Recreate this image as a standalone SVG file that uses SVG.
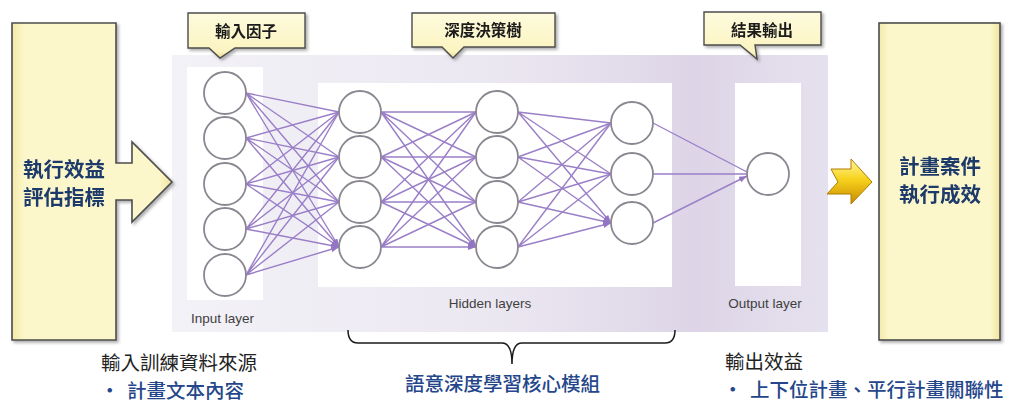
<svg xmlns="http://www.w3.org/2000/svg" width="1028" height="403" viewBox="0 0 1028 403">
  <defs>
    <linearGradient id="panelGrad" x1="0" y1="0" x2="1" y2="0">
      <stop offset="0" stop-color="#f3f2f7"/>
      <stop offset="0.5" stop-color="#ebe7f1"/>
      <stop offset="0.8" stop-color="#ddd5e7"/>
      <stop offset="1" stop-color="#e6e1ee"/>
    </linearGradient>
    <linearGradient id="boxGrad" x1="0" y1="0" x2="1" y2="0">
      <stop offset="0" stop-color="#f3e9a8"/>
      <stop offset="0.08" stop-color="#fcf7cb"/>
      <stop offset="0.92" stop-color="#fcf7cb"/>
      <stop offset="1" stop-color="#efe39c"/>
    </linearGradient>
    <linearGradient id="calloutGrad" x1="0" y1="0" x2="0" y2="1">
      <stop offset="0" stop-color="#fefbde"/>
      <stop offset="0.85" stop-color="#fbf4c0"/>
      <stop offset="1" stop-color="#eadd92"/>
    </linearGradient>
    <linearGradient id="goldGrad" x1="0" y1="0" x2="0" y2="1">
      <stop offset="0" stop-color="#fff7a0"/>
      <stop offset="0.45" stop-color="#f7d21c"/>
      <stop offset="1" stop-color="#c98a00"/>
    </linearGradient>
    <filter id="shadow" x="-10%" y="-10%" width="125%" height="125%">
      <feDropShadow dx="2" dy="2" stdDeviation="1.5" flood-color="#6b6b6b" flood-opacity="0.55"/>
    </filter>
    <marker id="arrowHead" viewBox="0 0 8 6" refX="8" refY="3" markerWidth="8" markerHeight="6" markerUnits="userSpaceOnUse" orient="auto">
      <path d="M0,0 L8,3 L0,6 Z" fill="#9475c4"/>
    </marker>
    <style>
      .box { fill: url(#boxGrad); stroke: #4d4d4d; stroke-width: 1.6; }
      .callout { fill: url(#calloutGrad); stroke: #4d4d4d; stroke-width: 1.4; }
      .boxText { font-family: "Noto Sans CJK TC", "Noto Sans CJK SC", sans-serif; font-size: 20.5px; font-weight: 700; fill: #1f3a6b; text-anchor: middle; }
      .calloutText { font-family: "Noto Sans CJK TC", "Noto Sans CJK SC", sans-serif; font-size: 15.5px; font-weight: 700; fill: #1a1a1a; text-anchor: middle; }
      .layerText { font-family: "Liberation Sans", Arial, sans-serif; font-size: 13.5px; fill: #3f3f3f; }
      .neuron { fill: #ffffff; stroke: #8b8791; stroke-width: 1.8; }
      .conn { stroke: #9a7fc8; stroke-width: 1.4; fill: none; marker-end: url(#arrowHead); }
      .caption { font-family: "Noto Sans CJK TC", "Noto Sans CJK SC", sans-serif; font-size: 19.5px; fill: #222222; }
      .bullet { font-family: "Noto Sans CJK TC", "Noto Sans CJK SC", sans-serif; font-size: 19.5px; fill: #24468a; font-weight: 500; }
      .panel { fill: #ffffff; }
    </style>
  </defs>

  <!-- network backdrop -->
  <g id="network-panel">
    <rect x="172" y="55" width="656" height="277" fill="url(#panelGrad)"/>
    <rect class="panel" x="187" y="67" width="76" height="233"/>
    <rect class="panel" x="318" y="83" width="354" height="204"/>
    <rect class="panel" x="735" y="83" width="66" height="203"/>
    <text class="layerText" x="191" y="323">Input layer</text>
    <text class="layerText" x="490" y="308" text-anchor="middle" font-size="15">Hidden layers</text>
    <text class="layerText" x="765" y="308" text-anchor="middle">Output layer</text>
  </g>

  <!-- left input box with block arrow -->
  <g id="eval-indicators" filter="url(#shadow)">
    <path class="box" d="M12,23 H116 V163 H132 V142 L172,182 L132,222 V200 H116 V340 H12 Z"/>
    <text class="boxText" x="64" y="177">執行效益</text>
    <text class="boxText" x="64" y="205">評估指標</text>
  </g>

  <!-- right outcome box -->
  <g id="case-outcome" filter="url(#shadow)">
    <rect class="box" x="879" y="23" width="121" height="317"/>
    <text class="boxText" x="940" y="174">計畫案件</text>
    <text class="boxText" x="940" y="202">執行成效</text>
  </g>

  <!-- gold arrow into outcome box -->
  <g id="outcome-arrow">
    <path d="M831,169 L851,169 L851,159 L872,182 L851,204 L851,194 L827,194 L838,182 Z" fill="url(#goldGrad)" stroke="#b07d00" stroke-width="1"/>
  </g>

  <!-- callouts -->
  <g id="callout-input" filter="url(#shadow)">
    <path class="callout" d="M188,13 H305 V48 H235 L220,58 L209,48 H188 Z"/>
    <text class="calloutText" x="246" y="37">輸入因子</text>
  </g>
  <g id="callout-hidden" filter="url(#shadow)">
    <path class="callout" d="M412,13 H555 V47 H464 L453,58 L442,47 H412 Z"/>
    <text class="calloutText" x="483" y="36">深度決策樹</text>
  </g>
  <g id="callout-output" filter="url(#shadow)">
    <path class="callout" d="M704,12 H821 V45 H755 L757,59 L740,45 H704 Z"/>
    <text class="calloutText" x="762" y="36">結果輸出</text>
  </g>

  <!-- connectors between layers -->
  <g id="connectors">
    <!-- input -> hidden 1 -->
    <path class="conn" d="M246,93 L339,112 M246,93 L339,157 M246,93 L339,202 M246,93 L339,247"/>
    <path class="conn" d="M246,138 L339,112 M246,138 L339,157 M246,138 L339,202 M246,138 L339,247"/>
    <path class="conn" d="M246,184 L339,112 M246,184 L339,157 M246,184 L339,202 M246,184 L339,247"/>
    <path class="conn" d="M246,229 L339,112 M246,229 L339,157 M246,229 L339,202 M246,229 L339,247"/>
    <path class="conn" d="M246,275 L339,112 M246,275 L339,157 M246,275 L339,202 M246,275 L339,247"/>
    <!-- hidden 1 -> hidden 2 -->
    <path class="conn" d="M381,112 L476,112 M381,112 L476,157 M381,112 L476,202 M381,112 L476,247"/>
    <path class="conn" d="M381,157 L476,112 M381,157 L476,157 M381,157 L476,202 M381,157 L476,247"/>
    <path class="conn" d="M381,202 L476,112 M381,202 L476,157 M381,202 L476,202 M381,202 L476,247"/>
    <path class="conn" d="M381,247 L476,112 M381,247 L476,157 M381,247 L476,202 M381,247 L476,247"/>
    <!-- hidden 2 -> hidden 3 -->
    <path class="conn" d="M518,112 L611,123 M518,112 L611,174 M518,112 L611,223"/>
    <path class="conn" d="M518,157 L611,123 M518,157 L611,174 M518,157 L611,223"/>
    <path class="conn" d="M518,202 L611,123 M518,202 L611,174 M518,202 L611,223"/>
    <path class="conn" d="M518,247 L611,123 M518,247 L611,174 M518,247 L611,223"/>
    <!-- hidden 3 -> output -->
    <path class="conn" d="M653,123 L747,172 M653,174 L747,174 M653,223 L747,176"/>
  </g>

  <!-- neurons -->
  <g id="input-layer">
    <circle class="neuron" cx="225" cy="93" r="21"/>
    <circle class="neuron" cx="225" cy="138" r="21"/>
    <circle class="neuron" cx="225" cy="184" r="21"/>
    <circle class="neuron" cx="225" cy="229" r="21"/>
    <circle class="neuron" cx="225" cy="275" r="21"/>
  </g>
  <g id="hidden-layer-1">
    <circle class="neuron" cx="360" cy="112" r="21"/>
    <circle class="neuron" cx="360" cy="157" r="21"/>
    <circle class="neuron" cx="360" cy="202" r="21"/>
    <circle class="neuron" cx="360" cy="247" r="21"/>
  </g>
  <g id="hidden-layer-2">
    <circle class="neuron" cx="497" cy="112" r="21"/>
    <circle class="neuron" cx="497" cy="157" r="21"/>
    <circle class="neuron" cx="497" cy="202" r="21"/>
    <circle class="neuron" cx="497" cy="247" r="21"/>
  </g>
  <g id="hidden-layer-3">
    <circle class="neuron" cx="632" cy="123" r="21"/>
    <circle class="neuron" cx="632" cy="174" r="21"/>
    <circle class="neuron" cx="632" cy="223" r="21"/>
  </g>
  <g id="output-layer">
    <circle class="neuron" cx="768" cy="174" r="21"/>
  </g>

  <!-- brace under the hidden layers -->
  <g id="core-brace">
    <path d="M348,330 Q348,343 358,343 L502,343 Q512,343 512,364 Q512,343 522,343 L665,343 Q675,343 675,330" fill="none" stroke="#1a1a1a" stroke-width="1.5"/>
  </g>

  <!-- captions -->
  <g id="caption-input">
    <text class="caption" x="101" y="370">輸入訓練資料來源</text>
    <text class="bullet" x="100" y="398">•</text>
    <text class="bullet" x="127" y="398">計畫文本內容</text>
  </g>
  <g id="caption-core">
    <text class="bullet" x="405" y="391">語意深度學習核心模組</text>
  </g>
  <g id="caption-output">
    <text class="caption" x="725" y="369">輸出效益</text>
    <text class="bullet" x="723" y="397">•</text>
    <text class="bullet" x="750" y="397">上下位計畫、平行計畫關聯性</text>
  </g>
</svg>
